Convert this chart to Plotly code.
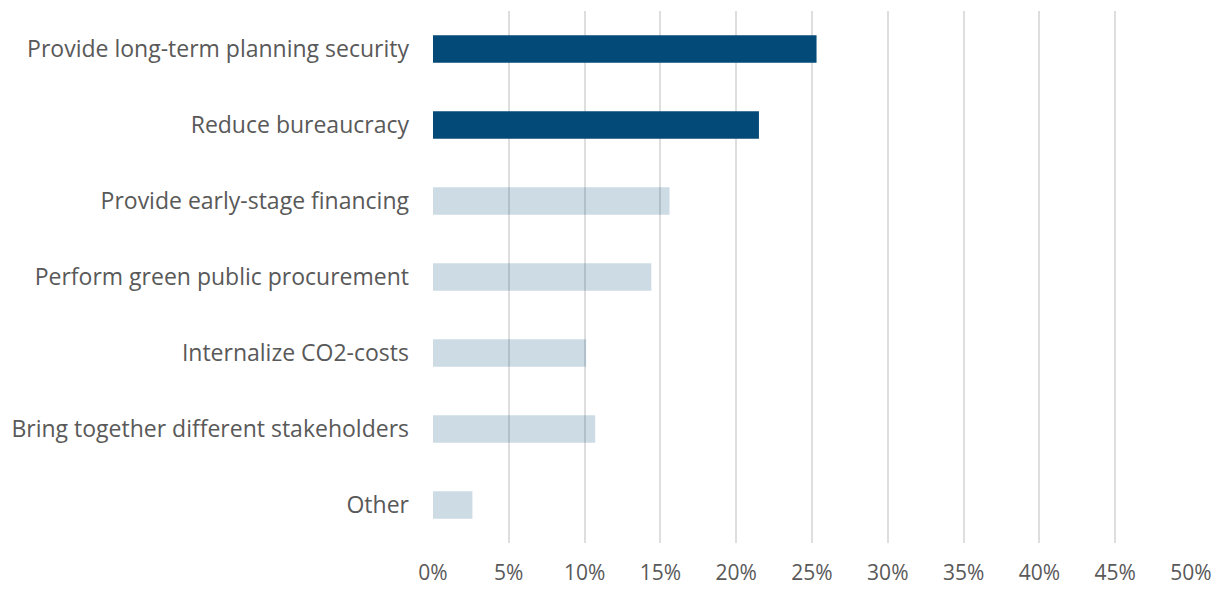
import plotly.graph_objects as go

# Survey answers: what policy makers should do (share of respondents)
categories = [
    "Provide long-term planning security",
    "Reduce bureaucracy",
    "Provide early-stage financing",
    "Perform green public procurement",
    "Internalize CO2-costs",
    "Bring together different stakeholders",
    "Other",
]
shares = [0.253, 0.215, 0.156, 0.144, 0.101, 0.107, 0.026]
highlighted = [True, True, False, False, False, False, False]

x_ticks = [i * 0.05 for i in range(11)]

DARK = "rgb(3,74,120)"
LIGHT = "rgba(3,74,120,0.2)"
colors = [DARK if h else LIGHT for h in highlighted]

fig = go.Figure(
    go.Bar(
        x=shares,
        y=categories,
        orientation="h",
        marker=dict(color=colors, line=dict(width=0)),
        width=0.36,
        hoverinfo="x+y",
    )
)

fig.update_layout(
    width=1217,
    height=589,
    margin=dict(l=433, r=26, t=11, b=46),
    paper_bgcolor="white",
    plot_bgcolor="white",
    showlegend=False,
    font=dict(family="Open Sans, Calibri, sans-serif", size=22, color="#595959"),
)

fig.update_xaxes(
    range=[0, 0.5],
    tickvals=x_ticks,
    tickformat=".0%",
    tickfont=dict(size=21),
    showgrid=True,
    gridcolor="#DEDEDE",
    gridwidth=2,
    zeroline=False,
    showline=False,
    ticklabelstandoff=15,
    automargin=False,
    layer="below traces",
)

fig.update_yaxes(
    categoryorder="array",
    categoryarray=categories[::-1],
    tickfont=dict(size=23),
    showgrid=False,
    zeroline=False,
    showline=False,
    ticklabelstandoff=23,
    automargin=False,
)

fig.write_html("out.html")
